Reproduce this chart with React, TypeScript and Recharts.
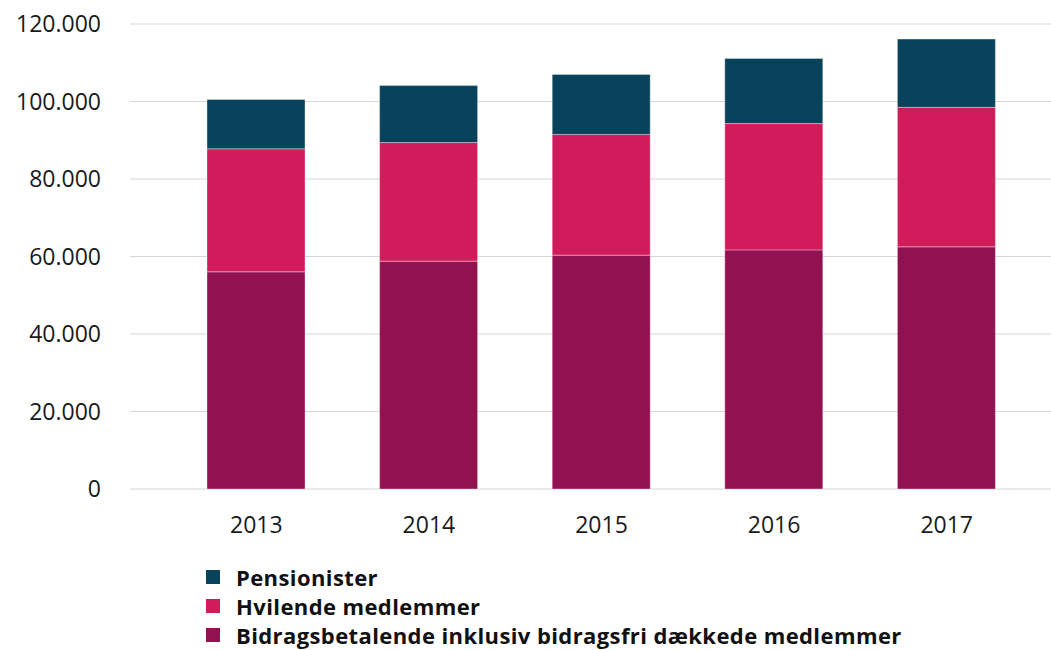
import React from 'react';
import { BarChart, Bar, XAxis, YAxis, CartesianGrid, Legend } from 'recharts';

const years = ['2013', '2014', '2015', '2016', '2017'];
const bidragsbetalende = [56050, 58800, 60350, 61700, 62500];
const hvilende = [31750, 30600, 31150, 32600, 36000];
const pensionister = [12700, 14700, 15500, 16800, 17600];
const yTicks = [0, 20000, 40000, 60000, 80000, 100000, 120000];

const series = [
  { key: 'bidrag', name: 'Bidragsbetalende inklusiv bidragsfri dækkede medlemmer', color: '#911151' },
  { key: 'hvilende', name: 'Hvilende medlemmer', color: '#d21b5b' },
  { key: 'pension', name: 'Pensionister', color: '#09425b' },
];

const data = years.map((y, i) => ({
  year: y,
  bidrag: bidragsbetalende[i],
  hvilende: hvilende[i],
  pension: pensionister[i],
}));

const fmt = (v: number) => String(v).replace(/\B(?=(\d{3})+(?!\d))/g, '.');

const font = '"Open Sans", sans-serif';

function LegendBox() {
  const items = [...series].reverse();
  return (
    <div style={{ paddingTop: 17, fontFamily: font }}>
      {items.map((s) => (
        <div key={s.key} style={{ display: 'flex', alignItems: 'center', height: 29 }}>
          <span style={{ width: 14, height: 14, background: s.color, display: 'inline-block', marginRight: 16 }} />
          <span style={{ fontSize: 22, fontWeight: 700, letterSpacing: 0.4, color: '#111', whiteSpace: 'nowrap' }}>{s.name}</span>
        </div>
      ))}
    </div>
  );
}

export default function App() {
  return (
    <div style={{ position: 'absolute', left: 0, top: 0, background: '#fff' }}>
      <BarChart width={1051} height={650} data={data} margin={{ top: 24, right: 0, left: 0, bottom: 0 }}>
        <CartesianGrid vertical={false} stroke="#d6d6d6" strokeWidth={1.2} />
        <XAxis
          dataKey="year"
          axisLine={false}
          tickLine={false}
          tickSize={0}
          tickMargin={28}
          height={56}
          padding={{ left: 40, right: 18 }}
          tick={{ fontSize: 23, fill: '#1a1a1a', fontFamily: font }}
        />
        <YAxis
          domain={[0, 120000]}
          ticks={yTicks}
          tickFormatter={fmt}
          axisLine={false}
          tickLine={false}
          tickSize={0}
          tickMargin={29}
          width={130}
          tick={{ fontSize: 23, fill: '#1a1a1a', fontFamily: font }}
        />
        <Legend
          verticalAlign="bottom"
          content={() => <LegendBox />}
          wrapperStyle={{ left: 206, width: 845, height: 105 }}
        />
        {series.map((s) => (
          <Bar
            key={s.key}
            dataKey={s.key}
            name={s.name}
            stackId="a"
            fill={s.color}
            stroke="#ffffff"
            strokeOpacity={0.35}
            strokeWidth={1}
            barSize={98}
            isAnimationActive={false}
          />
        ))}
      </BarChart>
    </div>
  );
}
